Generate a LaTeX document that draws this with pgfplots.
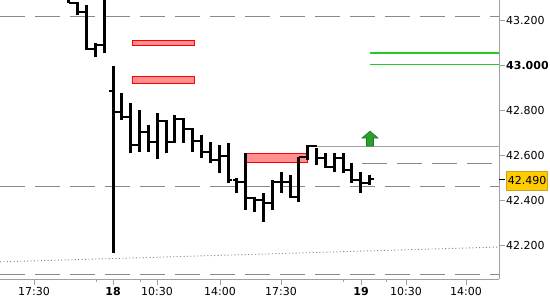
\documentclass[border=0pt]{standalone}
\usepackage{pgfplots}
\pgfplotsset{compat=1.18}
\usepackage{pgfplotstable}
\usepackage{fontspec}
\setmainfont{DejaVu Sans}
\definecolor{axisgray}{HTML}{A0A0A0}
\definecolor{dashgray}{HTML}{8A8A8A}
\definecolor{rectfill}{HTML}{FF9090}
\definecolor{linegreen}{HTML}{22CC22}
\definecolor{arrowgreen}{HTML}{2E9E2E}
\definecolor{arrowdark}{HTML}{1E7A1E}
\definecolor{gold}{HTML}{FFCC00}
\definecolor{goldborder}{HTML}{C9A227}

\pgfdeclareplotmark{uparrow}{%
  \pgfpathmoveto{\pgfqpoint{-3.5pt}{0pt}}%
  \pgfpathlineto{\pgfqpoint{3.5pt}{0pt}}%
  \pgfpathlineto{\pgfqpoint{3.5pt}{8pt}}%
  \pgfpathlineto{\pgfqpoint{8pt}{8pt}}%
  \pgfpathlineto{\pgfqpoint{0pt}{15pt}}%
  \pgfpathlineto{\pgfqpoint{-8pt}{8pt}}%
  \pgfpathlineto{\pgfqpoint{-3.5pt}{8pt}}%
  \pgfpathclose
  \pgfusepathqfillstroke}

\pgfplotstableread{
x high low open close
68.75 43.378 43.276 43.356 43.276
77.60 43.280 43.222 43.276 43.236
86.45 43.267 43.067 43.236 43.071
95.30 43.098 43.036 43.071 43.089
104.15 43.378 43.053 43.089 43.356
113.00 42.996 42.164 42.884 42.791
121.85 42.876 42.756 42.791 42.769
130.70 42.831 42.609 42.769 42.644
139.55 42.800 42.613 42.644 42.702
148.40 42.733 42.613 42.702 42.658
157.25 42.787 42.582 42.658 42.751
166.10 42.756 42.609 42.751 42.658
174.95 42.778 42.653 42.658 42.760
183.80 42.764 42.653 42.760 42.716
192.65 42.720 42.613 42.716 42.662
201.50 42.689 42.587 42.662 42.613
210.35 42.658 42.564 42.613 42.578
219.20 42.644 42.520 42.578 42.596
228.05 42.653 42.476 42.596 42.489
236.90 42.498 42.431 42.489 42.480
245.75 42.609 42.356 42.480 42.409
254.60 42.413 42.347 42.409 42.400
263.45 42.431 42.302 42.400 42.387
272.30 42.489 42.356 42.387 42.480
281.15 42.524 42.431 42.480 42.480
290.00 42.511 42.409 42.480 42.413
298.85 42.591 42.391 42.413 42.591
307.70 42.644 42.578 42.591 42.640
316.55 42.631 42.556 42.640 42.587
325.40 42.609 42.542 42.587 42.547
334.25 42.609 42.524 42.547 42.587
343.10 42.609 42.520 42.587 42.533
351.95 42.564 42.476 42.533 42.489
360.80 42.524 42.431 42.489 42.476
369.65 42.511 42.467 42.476 42.493
}\bars

\begin{document}
\begin{tikzpicture}[font=\fontsize{11bp}{13bp}\selectfont]
\begin{axis}[
  scale only axis, width=499bp, height=279bp,
  at={(0,0)}, anchor=south west,
  xmin=0, xmax=499, ymin=42.0489, ymax=43.2889,
  axis x line*=bottom, axis y line*=right,
  axis line style={draw=axisgray, line width=0.8bp},
  tick align=outside,
  major tick length=6bp, minor tick length=3bp,
  every tick/.style={draw=axisgray, line width=0.8bp},
  xtick={34,113,157,220,281,361,406,466},
  xticklabels={17:30,\textbf{18},10:30,14:00,17:30,\textbf{19},10:30,14:00},
  minor xtick={96,140,343,386},
  ytick={42.2,42.4,42.6,42.8,43.0,43.2},
  yticklabels={42.200,42.400,42.600,42.800,\textbf{43.000},43.200},
  yticklabel style={anchor=west, inner sep=1bp, xshift=0bp},
  xticklabel style={inner sep=1bp, yshift=-1bp},
  extra y ticks={42.49}, extra y tick labels={},
  extra y tick style={every tick/.style={draw=black, line width=0.8bp}},
  clip=true,
]
% horizontal reference lines
\addplot[dashgray, line width=0.9bp, dash pattern=on 25bp off 10bp] coordinates {(0,43.218) (499,43.218)};
\addplot[dashgray, line width=0.9bp, dash pattern=on 25bp off 10bp] coordinates {(0,42.462) (499,42.462)};
\addplot[dashgray, line width=0.9bp, dash pattern=on 25bp off 10bp] coordinates {(0,42.067) (499,42.067)};
\addplot[dashgray, line width=0.9bp, dash pattern=on 25bp off 10bp] coordinates {(362,42.564) (499,42.564)};
\addplot[dashgray!80, line width=0.9bp] coordinates {(307.7,42.640) (499,42.640)};
\addplot[color=linegreen, line width=1.3bp] coordinates {(370,43.053) (499,43.053)};
\addplot[color=linegreen, line width=1.3bp] coordinates {(370,43.0022) (499,43.0022)};
\addplot[gray, line width=0.9bp, dash pattern=on 1bp off 2.4bp] coordinates {(0,42.125) (499,42.191)};
% zones
\addplot[draw=red, fill=rectfill, line width=0.9bp] coordinates {(132,43.107) (194,43.107) (194,43.085) (132,43.085)} -- cycle;
\addplot[draw=red, fill=rectfill, line width=0.9bp] coordinates {(132,42.951) (194,42.951) (194,42.916) (132,42.916)} -- cycle;
\addplot[draw=red, fill=rectfill, line width=0.9bp] coordinates {(246,42.609) (307,42.609) (307,42.569) (246,42.569)} -- cycle;
% OHLC bars
\addplot[draw=none, mark=none, line width=3bp,
  error bars/.cd, y dir=plus, y explicit, error mark=none,
  error bar style={draw=black, solid, line width=3bp}]
  table[x=x, y=low, y error expr=\thisrow{high}-\thisrow{low}] {\bars};
\addplot[draw=none, mark=none, line width=2.6bp,
  error bars/.cd, x dir=minus, x fixed=4.4, error mark=none,
  error bar style={draw=black, solid, line width=2.6bp}]
  table[x=x, y=open] {\bars};
\addplot[draw=none, mark=none, line width=2.6bp,
  error bars/.cd, x dir=plus, x fixed=4.4, error mark=none,
  error bar style={draw=black, solid, line width=2.6bp}]
  table[x=x, y=close] {\bars};
% signal arrow
\addplot[only marks, mark=uparrow, mark options={fill=arrowgreen, draw=arrowdark, line width=0.6bp}] coordinates {(370,42.640)};
\coordinate (lp) at (axis cs:499,42.4845);
\end{axis}
\node[anchor=west, fill=gold, draw=goldborder, line width=0.8bp, inner xsep=1.5bp, minimum height=19bp, xshift=7bp] at (lp) {42.490};
\pgfresetboundingbox
\path[use as bounding box] (0,-21bp) rectangle (550bp,279bp);
\end{tikzpicture}
\end{document}
